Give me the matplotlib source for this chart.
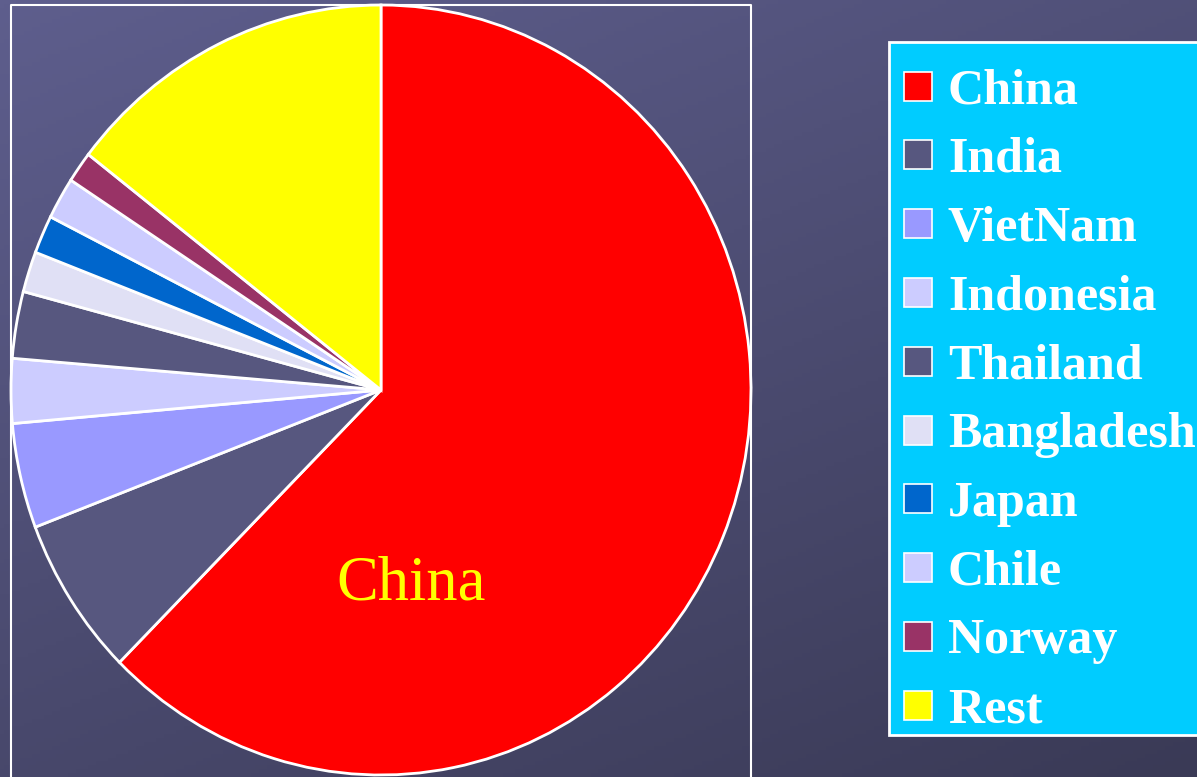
import numpy as np
import matplotlib
matplotlib.use('Agg')
import matplotlib.pyplot as plt
from matplotlib.patches import Rectangle

# shares of production (%), clockwise from 12 o'clock
countries = ['China', 'India', 'VietNam', 'Indonesia', 'Thailand',
             'Bangladesh', 'Japan', 'Chile', 'Norway', 'Rest']
shares = [62.4, 6.7, 4.4, 2.7, 2.8, 1.7, 1.6, 1.75, 1.3, 14.5]
colors = ['#FF0000', '#57577F', '#9999FF', '#CCCCFF', '#57577F',
          '#E0E0F5', '#0066CC', '#CCCCFF', '#993366', '#FFFF00']

W, H = 1197, 777
fig = plt.figure(figsize=(W / 100, H / 100), dpi=100)

# slide background: dark slate gradient
bg = fig.add_axes([0, 0, 1, 1], zorder=0)
yy, xx = np.mgrid[0:1:200j, 0:1:300j]
grad = 0.5 * xx + 0.8 * yy
bg.imshow(grad, cmap=matplotlib.colors.LinearSegmentedColormap.from_list(
    'slate', ['#5E5E8D', '#3A3A56']), aspect='auto', extent=(0, 1, 0, 1), origin='upper')
bg.set_xlim(0, 1)
bg.set_ylim(0, 1)
bg.axis('off')

# pie axes (plot frame is left/top/right white lines)
left, top, right, bottom = 11, 5, 751, 775
ax = fig.add_axes([left / W, (H - bottom) / H, (right - left) / W, (bottom - top) / H], zorder=1)
ax.pie(shares, colors=colors, startangle=90, counterclock=False, radius=1,
       wedgeprops=dict(edgecolor='white', linewidth=2))
ax.set_aspect('auto')
ax.set_xlim(-1, 1)
ax.set_ylim(-1, 1)
ax.text(0.08, -0.505, 'China', color='#FFFF00', fontsize=45, family='Liberation Serif',
        ha='center', va='center')

# frame lines
fig.add_artist(plt.Line2D([left / W, left / W, right / W, right / W],
                          [0, 1 - top / H, 1 - top / H, 0], color='white', lw=1.5,
                          transform=fig.transFigure, zorder=2))

# legend box
fig.add_artist(Rectangle((889 / W, 1 - 735 / H), 330 / W, (735 - 42) / H,
                         transform=fig.transFigure, facecolor='#00CCFF',
                         edgecolor='white', lw=2, zorder=3))
for i, (name, c) in enumerate(zip(countries, colors)):
    cy = 86 + i * 68.8
    fig.add_artist(Rectangle((904 / W, 1 - (cy + 14.5) / H), 28 / W, 29 / H,
                             transform=fig.transFigure, facecolor=c,
                             edgecolor='white', lw=1.2, zorder=4))
    fig.text(948 / W, 1 - (cy + 17) / H, name, color='white', fontsize=36,
             fontweight='bold', family='Liberation Serif', va='baseline', zorder=5)

fig.savefig('out.png', dpi=100)
